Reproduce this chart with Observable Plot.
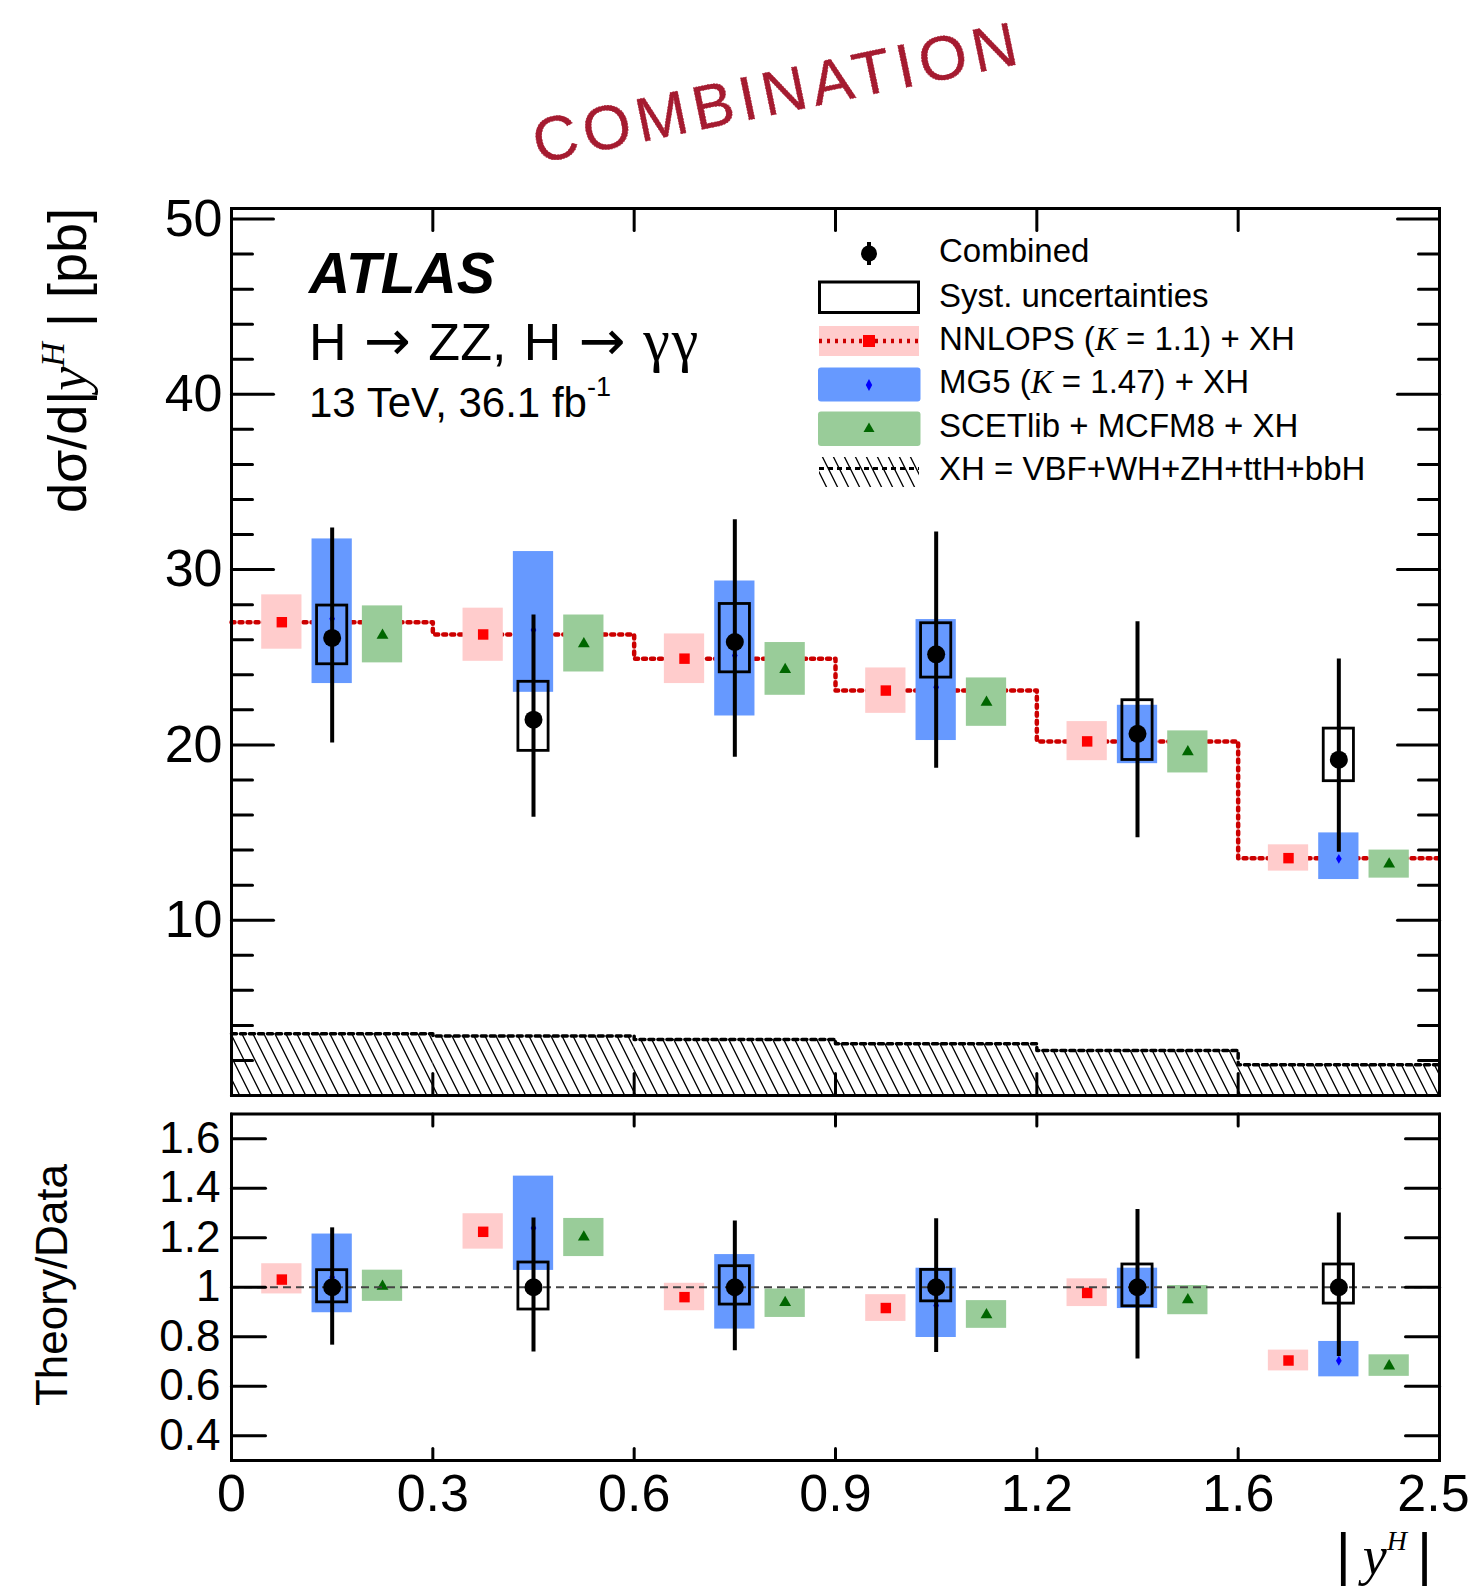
<!DOCTYPE html>
<html><head><meta charset="utf-8">
<script src="https://cdn.jsdelivr.net/npm/d3@7"></script>
<script src="https://cdn.jsdelivr.net/npm/@observablehq/plot@0.6"></script>
<style>
html,body{margin:0;padding:0;background:#fff;}
#wrap{position:relative;width:1471px;height:1593px;overflow:hidden;background:#fff;font-family:"Liberation Sans",Arial,sans-serif;}
#wrap > svg{position:absolute;left:0;}
</style></head><body><div id="wrap"></div>
<script>
// ---------- data ----------
const binLabels = ["0","0.3","0.6","0.9","1.2","1.6","2.5"];
// Combined measurement [pb]
const dataVal    = [26.10, 21.44, 25.87, 25.17, 20.63, 19.16];
const dataTotUp  = [32.38, 27.41, 32.85, 32.15, 27.03, 24.90];
const dataTotDn  = [20.11, 15.87, 19.30, 18.67, 14.70, 13.88];
const dataSystUp = [27.95, 23.60, 28.04, 26.94, 22.55, 20.93];
const dataSystDn = [24.60, 19.66, 24.14, 23.84, 19.14, 17.93];
// NNLOPS (K=1.1) + XH
const nnVal = [27.00, 26.30, 24.92, 23.10, 20.20, 13.54];
const nnUp  = [28.56, 27.80, 26.33, 24.39, 21.33, 14.30];
const nnDn  = [25.46, 24.77, 23.50, 21.80, 19.10, 12.80];
// MG5 (K=1.47) + XH
const mgVal = [27.19, 26.56, 25.10, 23.29, 20.60, 13.50];
const mgUp  = [31.75, 31.03, 29.35, 27.15, 22.26, 14.98];
const mgDn  = [23.50, 23.00, 21.65, 20.25, 18.93, 12.32];
// SCETlib + MCFM8 + XH
const scVal = [26.25, 25.76, 24.30, 22.43, 19.60, 13.20];
const scUp  = [27.93, 27.41, 25.84, 23.82, 20.80, 14.00];
const scDn  = [24.68, 24.16, 22.83, 21.06, 18.40, 12.40];
// XH = VBF+WH+ZH+ttH+bbH
const xhVal = [3.52, 3.39, 3.20, 2.95, 2.57, 1.75];

// Ratio Theory/Data
const rDataTotUp  = [1.240, 1.280, 1.268, 1.277, 1.314, 1.300];
const rDataTotDn  = [0.766, 0.738, 0.743, 0.736, 0.710, 0.720];
const rDataSystUp = [1.069, 1.100, 1.085, 1.070, 1.092, 1.092];
const rDataSystDn = [0.939, 0.910, 0.930, 0.943, 0.923, 0.934];
const rNnVal = [1.031, 1.224, 0.960, 0.916, 0.977, 0.704];
const rNnUp  = [1.095, 1.297, 1.016, 0.970, 1.034, 0.746];
const rNnDn  = [0.973, 1.154, 0.905, 0.862, 0.922, 0.662];
const rMgVal = [1.040, 1.239, 0.970, 0.926, 1.000, 0.703];
const rMgUp  = [1.215, 1.449, 1.132, 1.077, 1.077, 0.781];
const rMgDn  = [0.897, 1.068, 0.831, 0.797, 0.914, 0.638];
const rScVal = [1.004, 1.203, 0.938, 0.889, 0.949, 0.682];
const rScUp  = [1.069, 1.278, 0.993, 0.946, 1.007, 0.727];
const rScDn  = [0.943, 1.124, 0.878, 0.834, 0.889, 0.640];

// axis ticks
const mainYLabels = [10, 20, 30, 40, 50];
const mainYMajor = [0, 10, 20, 30, 40, 50];
const mainYMinor = [2,4,6,8,12,14,16,18,22,24,26,28,32,34,36,38,42,44,46,48];
const ratioYTicks = [0.4, 0.6, 0.8, 1.0, 1.2, 1.4, 1.6];
const ratioYLabels = ["0.4","0.6","0.8","1","1.2","1.4","1.6"];
const edges = [0,1,2,3,4,5,6];

// ---------- tables built from the arrays ----------
const main = dataVal.map((v, i) => ({
  i, val: v, totUp: dataTotUp[i], totDn: dataTotDn[i], sUp: dataSystUp[i], sDn: dataSystDn[i],
  nn: nnVal[i], nnUp: nnUp[i], nnDn: nnDn[i], mg: mgVal[i], mgUp: mgUp[i], mgDn: mgDn[i],
  sc: scVal[i], scUp: scUp[i], scDn: scDn[i], xh: xhVal[i]
}));
const ratio = rNnVal.map((v, i) => ({
  i, val: 1, totUp: rDataTotUp[i], totDn: rDataTotDn[i], sUp: rDataSystUp[i], sDn: rDataSystDn[i],
  nn: v, nnUp: rNnUp[i], nnDn: rNnDn[i], mg: rMgVal[i], mgUp: rMgUp[i], mgDn: rMgDn[i],
  sc: rScVal[i], scUp: rScUp[i], scDn: rScDn[i]
}));
function stepPts(vals) {
  const p = vals.map((v, i) => ({x: i, y: v}));
  p.push({x: vals.length, y: vals[vals.length - 1]});
  return p;
}

const W = 1471, FONT = "Liberation Sans, Arial, sans-serif";
const seg = {draw(ctx, l) { ctx.moveTo(0, 0); ctx.lineTo(0, -l); }};
const tk = (data, o) => Plot.vector(data, {anchor: "start", shape: seg, stroke: "black", strokeWidth: 3, ...o});

function bandMarks(rows) {
  return [
    Plot.rect(rows, {x1: d => d.i + 0.15, x2: d => d.i + 0.35, y1: "nnDn", y2: "nnUp", fill: "#ffcccc"}),
    Plot.rect(rows, {x1: d => d.i + 0.40, x2: d => d.i + 0.60, y1: "mgDn", y2: "mgUp", fill: "#6699ff"}),
    Plot.rect(rows, {x1: d => d.i + 0.65, x2: d => d.i + 0.85, y1: "scDn", y2: "scUp", fill: "#99cc99"}),
    Plot.dot(rows, {x: d => d.i + 0.25, y: "nn", symbol: "square", r: 5.9, fill: "#ff0000"}),
    Plot.dot(rows, {x: d => d.i + 0.50, y: "mg", symbol: "diamond", r: 3, fill: "#0000ff"}),
    Plot.dot(rows, {x: d => d.i + 0.75, y: "sc", symbol: "triangle", r: 4.4, fill: "#006600"})
  ];
}
function dataMarks(rows) {
  return [
    Plot.rect(rows, {x1: d => d.i + 0.425, x2: d => d.i + 0.575, y1: "sDn", y2: "sUp", fill: "none", stroke: "black", strokeWidth: 2.8}),
    Plot.ruleX(rows, {x: d => d.i + 0.5, y1: "totDn", y2: "totUp", stroke: "black", strokeWidth: 4}),
    Plot.dot(rows, {x: d => d.i + 0.5, y: "val", r: 9, fill: "black"})
  ];
}

// ---------- main panel ----------
const yMax = 50.6;
const mainPlot = Plot.plot({
  width: W, height: 1100,
  marginTop: 208, marginBottom: 5, marginLeft: 231, marginRight: 32,
  x: {domain: [0, 6], axis: null},
  y: {domain: [0, yMax]},
  style: {fontFamily: FONT, background: "transparent", overflow: "visible", color: "black"},
  marks: [
    Plot.rect(main, {x1: "i", x2: d => d.i + 1, y1: 0, y2: "xh", fill: "url(#hatchXH)"}),
    Plot.line(stepPts(xhVal), {x: "x", y: "y", curve: "step-after", stroke: "black", strokeWidth: 3.5, strokeDasharray: "5,4"}),
    Plot.line(stepPts(nnVal), {x: "x", y: "y", curve: "step-after", stroke: "#cc0000", strokeWidth: 4.5, strokeDasharray: "3,5"}),
    ...bandMarks(main),
    ...dataMarks(main),
    Plot.frame({stroke: "black", strokeWidth: 3}),
    tk(mainYMajor, {x: 0, y: d => d, length: 42, rotate: 90}),
    tk(mainYMajor, {x: 6, y: d => d, length: 42, rotate: -90}),
    tk(mainYMinor, {x: 0, y: d => d, length: 21, rotate: 90}),
    tk(mainYMinor, {x: 6, y: d => d, length: 21, rotate: -90}),
    tk(edges, {x: d => d, y: 0, length: 22, rotate: 0}),
    tk(edges, {x: d => d, y: yMax, length: 22, rotate: 180}),
    Plot.axisY({anchor: "left", ticks: mainYLabels, tickSize: 0, tickPadding: 9, fontSize: 52, label: null, tickFormat: d => String(d)})
  ]
});
mainPlot.style.top = "0px";

// ---------- ratio panel ----------
const rMin = 0.3, rMax = 1.7;
const ratioPlot = Plot.plot({
  width: W, height: 493,
  marginTop: 13.5, marginBottom: 133, marginLeft: 231, marginRight: 32,
  x: {domain: [0, 6]},
  y: {domain: [rMin, rMax]},
  style: {fontFamily: FONT, background: "transparent", overflow: "visible", color: "black"},
  marks: [
    ...bandMarks(ratio),
    Plot.ruleY([1], {stroke: "#444", strokeWidth: 2, strokeDasharray: "8,5"}),
    ...dataMarks(ratio),
    Plot.frame({stroke: "black", strokeWidth: 3}),
    tk(ratioYTicks, {x: 0, y: d => d, length: 34, rotate: 90}),
    tk(ratioYTicks, {x: 6, y: d => d, length: 34, rotate: -90}),
    tk(edges, {x: d => d, y: rMin, length: 12, rotate: 0}),
    tk(edges, {x: d => d, y: rMax, length: 12, rotate: 180}),
    Plot.axisY({anchor: "left", ticks: ratioYTicks, tickSize: 0, tickPadding: 11, fontSize: 44, label: null,
      tickFormat: d => ratioYLabels[ratioYTicks.indexOf(d)]}),
    Plot.axisX({anchor: "bottom", ticks: edges.slice(0, 6), tickSize: 0, tickPadding: 14, fontSize: 52, label: null,
      tickFormat: d => binLabels[d]}),
    Plot.axisX({anchor: "bottom", ticks: edges.slice(6), tickSize: 0, tickPadding: 14, fontSize: 52, label: null, dx: -6,
      tickFormat: d => binLabels[d]})
  ]
});
ratioPlot.style.top = "1100px";

// ---------- defs, annotations, legend ----------
const NS = "http://www.w3.org/2000/svg";
const wrap = document.getElementById("wrap");
const defs = document.createElementNS(NS, "svg");
defs.setAttribute("width", 0); defs.setAttribute("height", 0);
defs.style.position = "absolute";
defs.innerHTML = `<defs>
  <pattern id="hatchXH" patternUnits="userSpaceOnUse" width="11" height="22">
    <path d="M-0.5,-1L11.5,23M10,-2L12,2M-1,20L1,24" stroke="black" stroke-width="1.3" fill="none"/>
  </pattern>
</defs>`;
wrap.appendChild(defs);
wrap.appendChild(mainPlot);
wrap.appendChild(ratioPlot);

const ann = document.createElementNS(NS, "svg");
ann.setAttribute("width", W); ann.setAttribute("height", 1593);
ann.style.top = "0px"; ann.style.pointerEvents = "none";
ann.setAttribute("font-family", FONT);
const SERIF = "Liberation Serif, Times New Roman, serif";
const ARROW = "DejaVu Sans, sans-serif";
ann.innerHTML = `
<text transform="translate(782,113) rotate(-11.7)" text-anchor="middle" font-size="62" letter-spacing="6" fill="#a51b30" stroke="#a51b30" stroke-width="0.6" stroke-dasharray="2,1">COMBINATION</text>
<text transform="translate(86,208) rotate(-90)" text-anchor="end" font-size="54">dσ/d|<tspan font-family="${SERIF}" font-style="italic">y</tspan><tspan font-family="${SERIF}" font-style="italic" font-size="34" dy="-22">H</tspan><tspan dy="22"> | [pb]</tspan></text>
<text transform="translate(67,1285) rotate(-90)" text-anchor="middle" font-size="44">Theory/Data</text>
<text x="1432" y="1574" text-anchor="end" font-size="58">|<tspan font-family="${SERIF}" font-style="italic" font-size="54" dx="12">y</tspan><tspan font-family="${SERIF}" font-style="italic" font-size="28" dy="-24">H</tspan><tspan dy="24" dx="10">|</tspan></text>
<text x="309" y="293" font-size="57" font-weight="bold" font-style="italic">ATLAS</text>
<text x="309" y="360" font-size="52" word-spacing="3">H <tspan font-family="${ARROW}" font-size="56">→</tspan> ZZ, H <tspan font-family="${ARROW}" font-size="56">→</tspan> <tspan font-family="${SERIF}" font-size="60" letter-spacing="2">γγ</tspan></text>
<text x="309" y="417" font-size="42">13 TeV, 36.1 fb<tspan font-size="27" dy="-21">-1</tspan></text>

<g font-size="33">
  <line x1="869" x2="869" y1="242" y2="265" stroke="black" stroke-width="4"/>
  <circle cx="869" cy="253.5" r="8" fill="black"/>
  <text x="939" y="262">Combined</text>

  <rect x="819.5" y="282" width="99" height="30.5" fill="none" stroke="black" stroke-width="3"/>
  <text x="939" y="306.5">Syst. uncertainties</text>

  <rect x="819" y="326" width="100" height="30" fill="#ffcccc"/>
  <line x1="819" x2="919" y1="341" y2="341" stroke="#cc0000" stroke-width="4.5" stroke-dasharray="3,5"/>
  <rect x="863" y="335" width="12" height="12" fill="#ff0000"/>
  <text x="939" y="349.5">NNLOPS (<tspan font-family="${SERIF}" font-style="italic">K</tspan> = 1.1) + XH</text>

  <rect x="818" y="367.5" width="102.5" height="34" rx="3" fill="#6699ff"/>
  <path d="M869,379L872.2,385L869,391L865.8,385Z" fill="#0000ff"/>
  <text x="939" y="393.3">MG5 (<tspan font-family="${SERIF}" font-style="italic">K</tspan> = 1.47) + XH</text>

  <rect x="818" y="411.5" width="102.5" height="34.5" rx="3" fill="#99cc99"/>
  <path d="M869,422.5L874.5,432L863.5,432Z" fill="#006600"/>
  <text x="939" y="436.7">SCETlib + MCFM8 + XH</text>

  <rect x="819" y="457" width="100" height="30" fill="url(#hatchXH)"/>
  <line x1="819" x2="919" y1="468.5" y2="468.5" stroke="black" stroke-width="3" stroke-dasharray="5,4"/>
  <text x="939" y="480">XH = VBF+WH+ZH+ttH+bbH</text>
</g>`;
wrap.appendChild(ann);
</script></body></html>
